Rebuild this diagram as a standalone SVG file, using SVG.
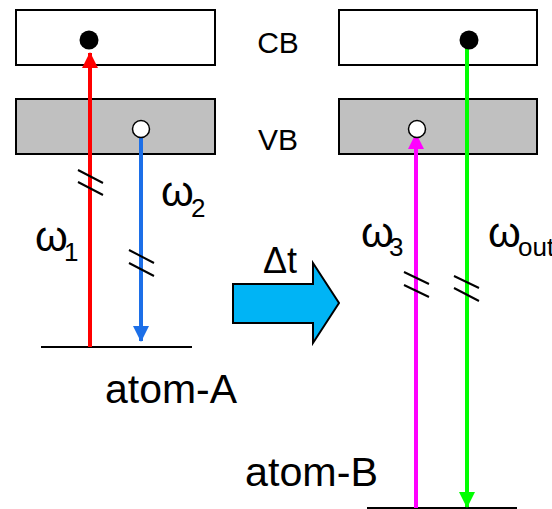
<svg xmlns="http://www.w3.org/2000/svg" width="552" height="509" viewBox="0 0 552 509">
<style>
text{font-family:"Liberation Sans",Arial,sans-serif;fill:#000}
.band{stroke:#000;stroke-width:2}
.cb{fill:#fff}
.vb{fill:#c0c0c0}
.brk{stroke:#000;stroke-width:2;fill:none}
.gnd{stroke:#000;stroke-width:2}
.lbl{font-size:30px}
.big{font-size:40px}
.om{font-size:42px}
.sub{font-size:26px}
</style>
<defs>
<marker id="hr" viewBox="0 0 16 16" refX="15" refY="8" markerWidth="16" markerHeight="16" markerUnits="userSpaceOnUse" orient="auto"><path d="M0,0L16,8L0,16z" fill="#ff0000"/></marker>
<marker id="hb" viewBox="0 0 16 16" refX="15" refY="8" markerWidth="16" markerHeight="16" markerUnits="userSpaceOnUse" orient="auto"><path d="M0,0L16,8L0,16z" fill="#1c6fe8"/></marker>
<marker id="hm" viewBox="0 0 16 16" refX="15" refY="8" markerWidth="16" markerHeight="16" markerUnits="userSpaceOnUse" orient="auto"><path d="M0,0L16,8L0,16z" fill="#ff00ff"/></marker>
<marker id="hg" viewBox="0 0 16 16" refX="15" refY="8" markerWidth="16" markerHeight="16" markerUnits="userSpaceOnUse" orient="auto"><path d="M0,0L16,8L0,16z" fill="#00ff00"/></marker>
</defs>

<g id="cbA"><rect class="band cb" x="16" y="10" width="199" height="55"/></g>
<g id="vbA"><rect class="band vb" x="16" y="99" width="199" height="55"/></g>
<g id="cbB"><rect class="band cb" x="339" y="10" width="198" height="55"/></g>
<g id="vbB"><rect class="band vb" x="339" y="99" width="198" height="55"/></g>
<g id="groundA"><line class="gnd" x1="41" y1="347" x2="192" y2="347"/></g>
<g id="groundB"><line class="gnd" x1="367" y1="508" x2="517" y2="508"/></g>

<g id="connectors">
<line x1="90" y1="347" x2="90" y2="53" stroke="#ff0000" stroke-width="4" marker-end="url(#hr)"/>
<line x1="141" y1="137" x2="141" y2="341" stroke="#1c6fe8" stroke-width="4" marker-end="url(#hb)"/>
<line x1="416" y1="508" x2="416" y2="134" stroke="#ff00ff" stroke-width="4" marker-end="url(#hm)"/>
<line x1="467" y1="40" x2="467" y2="507" stroke="#00ff00" stroke-width="4" marker-end="url(#hg)"/>
<path class="brk" d="M78,170L103,183M78,182L103,195"/>
<path class="brk" d="M129,250L154,263M129,263L154,276"/>
<path class="brk" d="M404,272L429,284M404,285L429,297"/>
<path class="brk" d="M454,276L479,288M454,288L479,301"/>
</g>

<g id="electronA"><circle cx="89" cy="40" r="9.5" fill="#000"/></g>
<g id="holeA"><circle cx="141" cy="129" r="8.5" fill="#fff" stroke="#000" stroke-width="1.5"/></g>
<g id="electronB"><circle cx="469" cy="40" r="9.5" fill="#000"/></g>
<g id="holeB"><circle cx="417" cy="129" r="8.5" fill="#fff" stroke="#000" stroke-width="1.5"/></g>

<g id="dtArrow"><path d="M233,284H313V263L339,303L313,343V323H233Z" fill="#00b4f5" stroke="#000" stroke-width="2" stroke-linejoin="miter"/></g>

<g id="labels">
<text class="lbl" x="278" y="53" text-anchor="middle">CB</text>
<text class="lbl" x="278" y="150" text-anchor="middle">VB</text>
<text class="om" x="35" y="251">ω</text><text class="sub" x="64" y="261">1</text>
<text class="om" x="161" y="206">ω</text><text class="sub" x="191" y="217">2</text>
<text x="263" y="273" style="font-size:36px">Δt</text>
<text class="om" x="361" y="247">ω</text><text class="sub" x="389" y="256">3</text>
<text class="om" x="488" y="247">ω</text><text class="sub" x="518" y="256">out</text>
<text class="big" x="105" y="403" textLength="132" lengthAdjust="spacingAndGlyphs">atom-A</text>
<text class="big" x="245" y="486" textLength="133" lengthAdjust="spacingAndGlyphs">atom-B</text>
</g>
</svg>
